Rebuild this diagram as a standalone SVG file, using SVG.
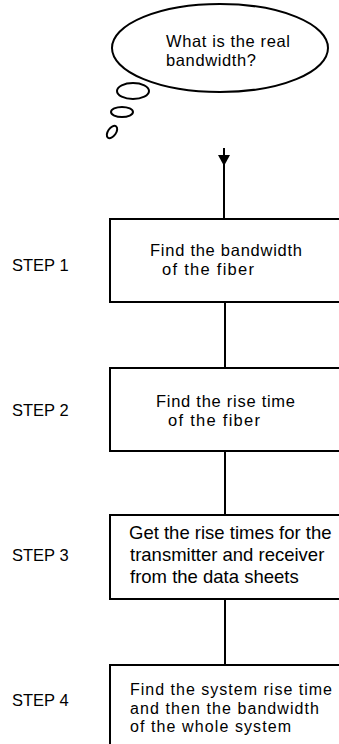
<svg xmlns="http://www.w3.org/2000/svg" width="339" height="744" viewBox="0 0 339 744">
<style>
.box{fill:#fff;stroke:#000;stroke-width:2}
.bub{fill:none;stroke:#000;stroke-width:2}
.t{font-family:"Liberation Sans",Arial,sans-serif;font-size:16.5px;fill:#000}
.t4{font-family:"Liberation Sans",Arial,sans-serif;font-size:16px;fill:#000}
.t3{font-family:"Liberation Sans",Arial,sans-serif;font-size:18.5px;fill:#000}
.st{font-family:"Liberation Sans",Arial,sans-serif;font-size:16.5px;fill:#000}
.ln{stroke:#000;stroke-width:2;fill:none}
</style>
<rect width="339" height="744" fill="#fff"/>
<g id="thought">
<ellipse class="bub" cx="220" cy="48" rx="108" ry="44"/>
<ellipse class="bub" cx="133" cy="91" rx="16" ry="8"/>
<ellipse class="bub" cx="122" cy="112" rx="11" ry="5"/>
<ellipse class="bub" cx="112" cy="132" rx="4" ry="7" transform="rotate(35 112 132)"/>
<text class="t" x="166" y="47" textLength="124" lengthAdjust="spacing">What is the real</text>
<text class="t" x="166" y="66" textLength="90" lengthAdjust="spacing">bandwidth?</text>
</g>
<g id="connectors">
<line class="ln" x1="224" y1="148" x2="224" y2="219"/>
<polygon points="218,155 230,155 224,166" fill="#000"/>
<line class="ln" x1="225" y1="302" x2="225" y2="368"/>
<line class="ln" x1="225" y1="451" x2="225" y2="515"/>
<line class="ln" x1="225" y1="599" x2="225" y2="665"/>
</g>
<g id="step1">
<text class="st" x="12" y="271">STEP 1</text>
<rect class="box" x="110" y="219" width="240" height="83"/>
<text class="t" x="150" y="256" textLength="152" lengthAdjust="spacing">Find the bandwidth</text>
<text class="t" x="162" y="275" textLength="92" lengthAdjust="spacing">of the fiber</text>
</g>
<g id="step2">
<text class="st" x="12" y="416">STEP 2</text>
<rect class="box" x="110" y="368" width="240" height="83"/>
<text class="t" x="156" y="407" textLength="139" lengthAdjust="spacing">Find the rise time</text>
<text class="t" x="168" y="426" textLength="92" lengthAdjust="spacing">of the fiber</text>
</g>
<g id="step3">
<text class="st" x="12" y="561">STEP 3</text>
<rect class="box" x="110" y="515" width="240" height="84"/>
<text class="t3" x="129" y="539">Get the rise times for the</text>
<text class="t3" x="130" y="561">transmitter and receiver</text>
<text class="t3" x="130" y="583">from the data sheets</text>
</g>
<g id="step4">
<text class="st" x="12" y="706">STEP 4</text>
<rect class="box" x="110" y="665" width="240" height="90"/>
<text class="t4" x="130" y="695" textLength="202" lengthAdjust="spacing">Find the system rise time</text>
<text class="t4" x="130" y="713.5" textLength="189" lengthAdjust="spacing">and then the bandwidth</text>
<text class="t4" x="130" y="732" textLength="161" lengthAdjust="spacing">of the whole system</text>
</g>
</svg>
